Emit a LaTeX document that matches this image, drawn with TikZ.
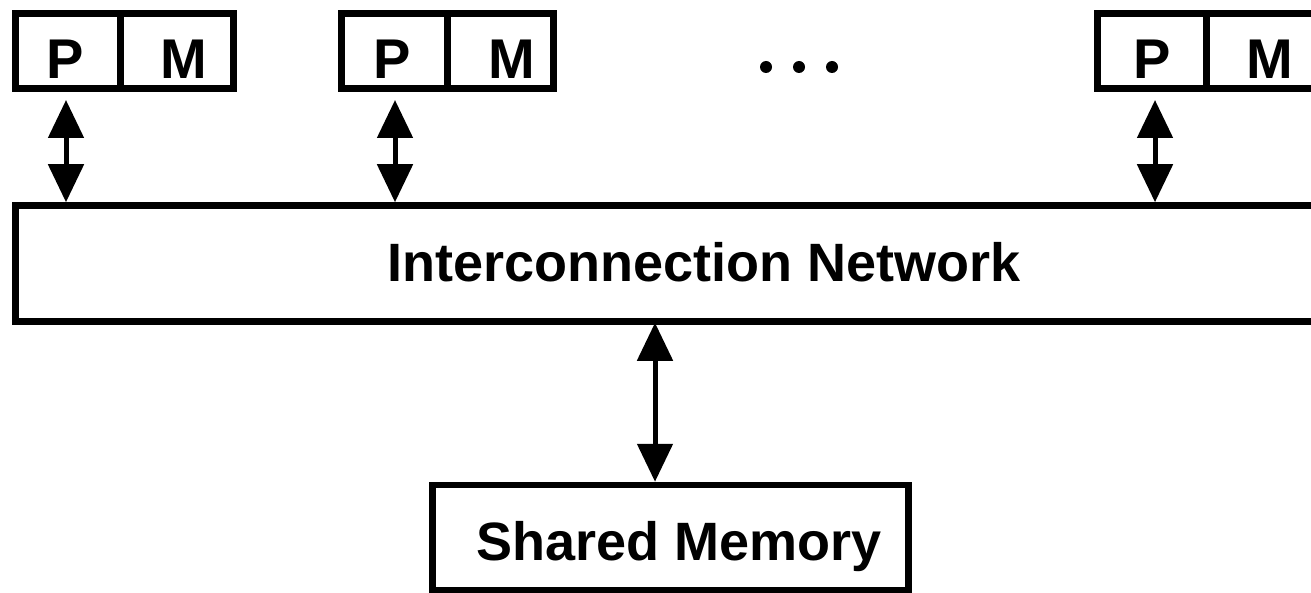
\documentclass[tikz,border=0pt]{standalone}
\usepackage{fontspec}
\setmainfont{Liberation Sans}
\usetikzlibrary{arrows.meta}
\begin{document}
\begin{tikzpicture}[x=1pt,y=-1pt,
  cell/.style={draw, line width=6.5pt, rectangle, inner sep=0pt, minimum height=75pt},
  bigbox/.style={draw, line width=6.5pt, rectangle, inner sep=0pt},
  celltext/.style={anchor=base, inner sep=0pt, font=\fontsize{56}{60}\selectfont\bfseries},
  boxtext/.style={anchor=base, inner sep=0pt, font=\fontsize{54}{60}\selectfont\bfseries},
  biarrow/.style={line width=5pt, {Triangle[width=35pt,length=38pt]}-{Triangle[width=35pt,length=38pt]}},
  dot/.style={circle, fill=black, inner sep=0pt, minimum size=12pt}
]
\fill[white] (0,0) rectangle (1311,593);
\clip (0,0) rectangle (1311,593);
\useasboundingbox (0,0) rectangle (1311,593);

% processor/memory pairs
\node[cell, minimum width=105pt] (p1) at (68,51) {};
\node[cell, minimum width=113pt] (m1) at (177,51) {};
\node[cell, minimum width=106pt] (p2) at (394.5,51) {};
\node[cell, minimum width=106pt] (m2) at (500.5,51) {};
\node[cell, minimum width=109pt] (p3) at (1152,51) {};
\node[cell, minimum width=109pt] (m3) at (1261,51) {};

\node[celltext] (p1t) at (65.5,79) {P};
\node[celltext] (m1t) at (184,79) {M};
\node[celltext] (p2t) at (392.5,79) {P};
\node[celltext] (m2t) at (511.5,79) {M};
\node[celltext] (p3t) at (1152,79) {P};
\node[celltext] (m3t) at (1270,79) {M};

% dots
\node[dot] (d1) at (766,67) {};
\node[dot] (d2) at (799,67) {};
\node[dot] (d3) at (832,67) {};

% network
\node[bigbox, minimum width=1300.5pt, minimum height=116pt] (net) at (665.75,263.5) {};
\node[boxtext] (netl) at (704,282) {Interconnection Network};

% shared memory
\node[bigbox, minimum width=476pt, minimum height=105pt] (sm) at (670.5,537.5) {};
\node[boxtext] (sml) at (679,560) {Shared Memory};

% connectors
\coordinate (a1) at (66,0);
\coordinate (a2) at (395,0);
\coordinate (a3) at (1155,0);
\coordinate (as) at (655,0);
\draw[biarrow, shorten <=8.25pt] (p1.south -| a1) -- (net.north -| a1);
\draw[biarrow, shorten <=8.25pt] (p2.south -| a2) -- (net.north -| a2);
\draw[biarrow, shorten <=8.25pt] (p3.south -| a3) -- (net.north -| a3);
\draw[biarrow, shorten <=-2pt] (net.south -| as) -- (sm.north -| as);
\end{tikzpicture}
\end{document}
